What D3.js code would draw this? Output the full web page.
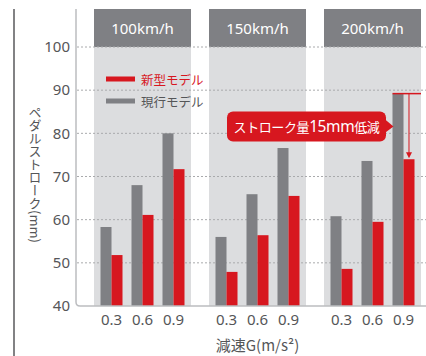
<!DOCTYPE html>
<html>
<head>
<meta charset="utf-8">
<script src="https://cdn.jsdelivr.net/npm/d3@7"></script>
<style>
  html, body { margin: 0; padding: 0; background: #fff; }
  svg { display: block; font-family: "Noto Sans CJK JP", "Noto Sans", sans-serif; }
</style>
</head>
<body>
<svg id="chart" width="426" height="356"></svg>
<script>
// Speeds (panels), deceleration levels (groups), and pedal stroke values (mm)
const speeds = ["100km/h", "150km/h", "200km/h"];
const decels = ["0.3", "0.6", "0.9"];
const seriesKeys = ["current", "new"];
const seriesNames = ["現行モデル", "新型モデル"];
const currentModel = [
  [58.3, 68.0, 80.0],
  [56.0, 65.9, 76.6],
  [60.8, 73.6, 89.2]
];
const newModel = [
  [51.8, 61.1, 71.7],
  [47.9, 56.4, 65.5],
  [48.6, 59.5, 74.0]
];
const yTicks = [40, 50, 60, 70, 80, 90, 100];

const RED = "#d7171f", GRAY = "#7f8084", PANEL = "#dcdddf", TEXT = "#555658";

const svg = d3.select("#chart");

const y = d3.scaleLinear().domain([40, 100]).range([306, 47]);
const panelX = d3.scaleBand().domain(speeds).range([94, 421])
  .paddingInner(18 / 115).paddingOuter(0);
const groupX = d3.scaleBand().domain(decels).range([0, panelX.bandwidth()])
  .paddingInner(9 / 31).paddingOuter(0.2097);
const seriesX = d3.scaleBand().domain(seriesKeys).range([0, groupX.bandwidth()]);
const headerTop = 9;

// Outer left rule
svg.append("line").attr("x1", 14).attr("x2", 14).attr("y1", headerTop).attr("y2", 356)
  .attr("stroke", "#58595b").attr("stroke-width", 1.5);

// Panel backgrounds and headers
const panels = svg.append("g").selectAll("g").data(speeds).join("g")
  .attr("transform", d => `translate(${panelX(d)},0)`);
panels.append("rect").attr("x", 0).attr("y", headerTop)
  .attr("width", panelX.bandwidth()).attr("height", y(40) - headerTop).attr("fill", PANEL);
panels.append("rect").attr("x", 0).attr("y", headerTop)
  .attr("width", panelX.bandwidth()).attr("height", y(100) - headerTop).attr("fill", GRAY);
panels.append("text").attr("x", panelX.bandwidth() / 2).attr("y", (headerTop + y(100)) / 2)
  .attr("text-anchor", "middle").attr("dominant-baseline", "central")
  .attr("fill", "#fff").attr("font-size", 15).attr("font-family", "'Noto Sans', sans-serif")
  .text(d => d);

// Dotted gridlines
svg.append("g").selectAll("line").data(yTicks.filter(t => t > 40)).join("line")
  .attr("x1", 77).attr("x2", 426).attr("y1", d => y(d)).attr("y2", d => y(d))
  .attr("stroke", "#a9aaac").attr("stroke-width", 1).attr("stroke-dasharray", "2,2");

// Bars
const rows = [];
speeds.forEach((s, i) => decels.forEach((g, j) => {
  rows.push({ speed: s, decel: g, key: "current", value: currentModel[i][j] });
  rows.push({ speed: s, decel: g, key: "new", value: newModel[i][j] });
}));
svg.append("g").selectAll("rect").data(rows).join("rect")
  .attr("x", d => panelX(d.speed) + groupX(d.decel) + seriesX(d.key))
  .attr("width", seriesX.bandwidth())
  .attr("y", d => y(d.value))
  .attr("height", d => y(40) - y(d.value))
  .attr("fill", d => d.key === "new" ? RED : GRAY);

// Axis frame: vertical axis with a rounded corner into the baseline
const r = 4;
svg.append("path")
  .attr("d", `M76,${headerTop} V${y(40) - r} Q76,${y(40)} ${76 + r},${y(40)} H426`)
  .attr("fill", "none").attr("stroke", "#bcbdc0").attr("stroke-width", 1.5);

// Y tick labels
const yAxis = d3.axisLeft(y).tickValues(yTicks).tickSize(0).tickPadding(0);
const yg = svg.append("g").attr("transform", "translate(70,0)").call(yAxis);
yg.select(".domain").remove();
yg.selectAll("text").attr("fill", TEXT).attr("font-size", 15)
  .attr("font-family", "'Noto Sans', sans-serif");

// X tick labels per panel
const xAxis = d3.axisBottom(groupX).tickSize(0).tickPadding(0);
panels.append("g").attr("transform", `translate(0,${y(40) + 8})`).call(xAxis)
  .call(g => g.select(".domain").remove())
  .selectAll("text").attr("fill", TEXT).attr("font-size", 15)
  .attr("font-family", "'Noto Sans', sans-serif");

// Axis titles
svg.append("text").attr("x", panelX("150km/h") + panelX.bandwidth() / 2).attr("y", 344)
  .attr("text-anchor", "middle").attr("dominant-baseline", "central")
  .attr("fill", TEXT).attr("font-size", 15).text("減速G(m/s²)");
svg.append("text").attr("x", 35).attr("y", 106)
  .attr("writing-mode", "vertical-rl").attr("fill", TEXT).attr("font-size", 13)
  .style("writing-mode", "vertical-rl")
  .text("ペダルストローク(mm)");

// Legend
const legend = svg.append("g").attr("transform", `translate(${panelX("100km/h") + 12},79)`);
const legendItems = [
  { name: seriesNames[1], color: RED, textColor: RED },
  { name: seriesNames[0], color: GRAY, textColor: TEXT }
];
const li = legend.selectAll("g").data(legendItems).join("g")
  .attr("transform", (d, i) => `translate(0,${i * 22})`);
li.append("rect").attr("x", 0).attr("y", -2.5).attr("width", 29).attr("height", 5)
  .attr("fill", d => d.color);
li.append("text").attr("x", 35).attr("y", 0).attr("dominant-baseline", "central")
  .attr("font-size", 12.5).attr("fill", d => d.textColor).text(d => d.name);

// Reduction annotation on the 200km/h, 0.9 pair
const aS = "200km/h", aG = "0.9";
const aCur = currentModel[2][2], aNew = newModel[2][2];
const gx = panelX(aS) + groupX(aG);
const redCx = gx + seriesX("new") + seriesX.bandwidth() / 2;
const ann = svg.append("g");
ann.append("line").attr("x1", gx).attr("x2", panelX(aS) + panelX.bandwidth())
  .attr("y1", y(aCur)).attr("y2", y(aCur)).attr("stroke", RED).attr("stroke-width", 1.5);
ann.append("line").attr("x1", redCx).attr("x2", redCx)
  .attr("y1", y(aCur)).attr("y2", y(aNew) - 6).attr("stroke", RED).attr("stroke-width", 1);
ann.append("path")
  .attr("d", `M${redCx - 3},${y(aNew) - 7} L${redCx + 3},${y(aNew) - 7} L${redCx},${y(aNew) - 1} Z`)
  .attr("fill", RED);

// Callout bubble
const cy = (y(aCur) + y(aNew)) / 2;
const bx0 = 227, bx1 = 386, bh = 30;
ann.append("rect").attr("x", bx0).attr("y", cy - bh / 2).attr("width", bx1 - bx0).attr("height", bh)
  .attr("rx", 6).attr("fill", RED);
ann.append("path")
  .attr("d", `M${bx1 - 2},${cy - 8} L${gx + 1},${cy} L${bx1 - 2},${cy + 7} Z`)
  .attr("fill", RED);
const ct = ann.append("text").attr("x", (bx0 + bx1) / 2).attr("y", cy)
  .attr("text-anchor", "middle").attr("dominant-baseline", "central")
  .attr("fill", "#fff").attr("font-size", 13).attr("letter-spacing", -0.4);
ct.append("tspan").text("ストローク量");
ct.append("tspan").attr("font-size", 15.5).attr("font-family", "'Noto Sans', sans-serif").text("15mm");
ct.append("tspan").text("低減");
</script>
</body>
</html>
